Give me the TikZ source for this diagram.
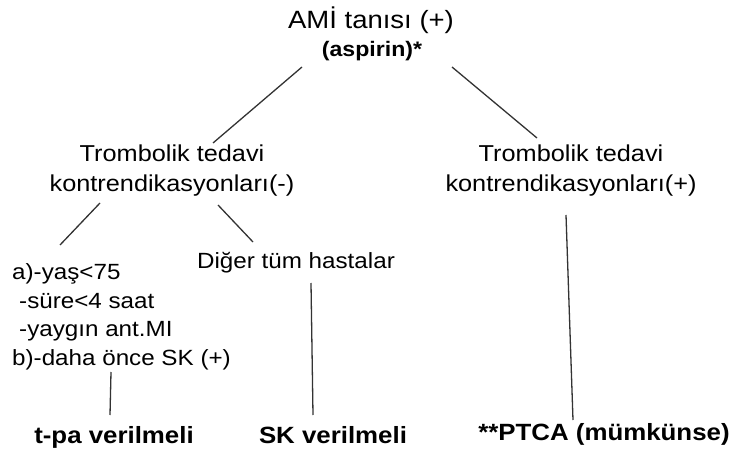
\documentclass[tikz,border=0pt]{standalone}
\usepackage{fontspec}
\setmainfont[FakeStretch=1.1]{Liberation Sans}
\usetikzlibrary{positioning}

\begin{document}
\begin{tikzpicture}[
    x=1pt, y=-1pt,
    txt/.style={inner sep=0pt, align=center, font=\fontsize{23}{30}\selectfont},
    lst/.style={inner sep=0pt, align=left, font=\fontsize{22}{28.5}\selectfont},
    res/.style={inner sep=0pt, font=\fontsize{23.5}{28}\selectfont\bfseries},
    link/.style={line width=1.3pt, draw=black!80}
]
    \useasboundingbox (0,0) rectangle (733,454);

    \node[txt, anchor=base, font=\fontsize{25}{30}\selectfont] (ami) at (371,29) {AMİ tanısı (+)};
    \node[res, anchor=base, font=\fontsize{21}{26}\selectfont\bfseries] (aspirin) at (372,57) {(aspirin)*};
    \node[txt, anchor=base] (kontrneg) at (172,192) {Trombolik tedavi\\kontrendikasyonları(-)};
    \node[txt, anchor=base] (kontrpoz) at (571,192) {Trombolik tedavi\\kontrendikasyonları(+)};
    \node[lst, anchor=base west] (kriter) at (12,365) {a)-yaş<75\\\hspace*{7pt}-süre<4 saat\\\hspace*{7pt}-yaygın ant.MI\\b)-daha önce SK (+)};
    \node[txt, anchor=base, font=\fontsize{22}{28}\selectfont] (diger) at (296,269) {Diğer tüm hastalar};
    \node[res, anchor=base] (tpa) at (114,443) {t-pa verilmeli};
    \node[res, anchor=base] (sk) at (333,443) {SK verilmeli};
    \node[res, anchor=base] (ptca) at (604,440) {**PTCA (mümkünse)};

    % connector ends
    \coordinate (a1) at (302,67);
    \coordinate (a2) at (452,67);
    \coordinate (n1) at (213,143);
    \coordinate (p1) at (537,138);
    \coordinate (n2) at (100,203);
    \coordinate (n3) at (218,205);
    \coordinate (k1) at (60,245);
    \coordinate (d1) at (253,242);
    \coordinate (k2) at (111,372);
    \coordinate (t1) at (110,415);
    \coordinate (d2) at (311,283);
    \coordinate (s1) at (313,415);
    \coordinate (p2) at (566,215);
    \coordinate (c1) at (573,420);

    \draw[link] (a1) -- (n1);
    \draw[link] (a2) -- (p1);
    \draw[link] (n2) -- (k1);
    \draw[link] (n3) -- (d1);
    \draw[link] (k2) -- (t1);
    \draw[link] (d2) -- (s1);
    \draw[link] (p2) -- (c1);
\end{tikzpicture}
\end{document}
